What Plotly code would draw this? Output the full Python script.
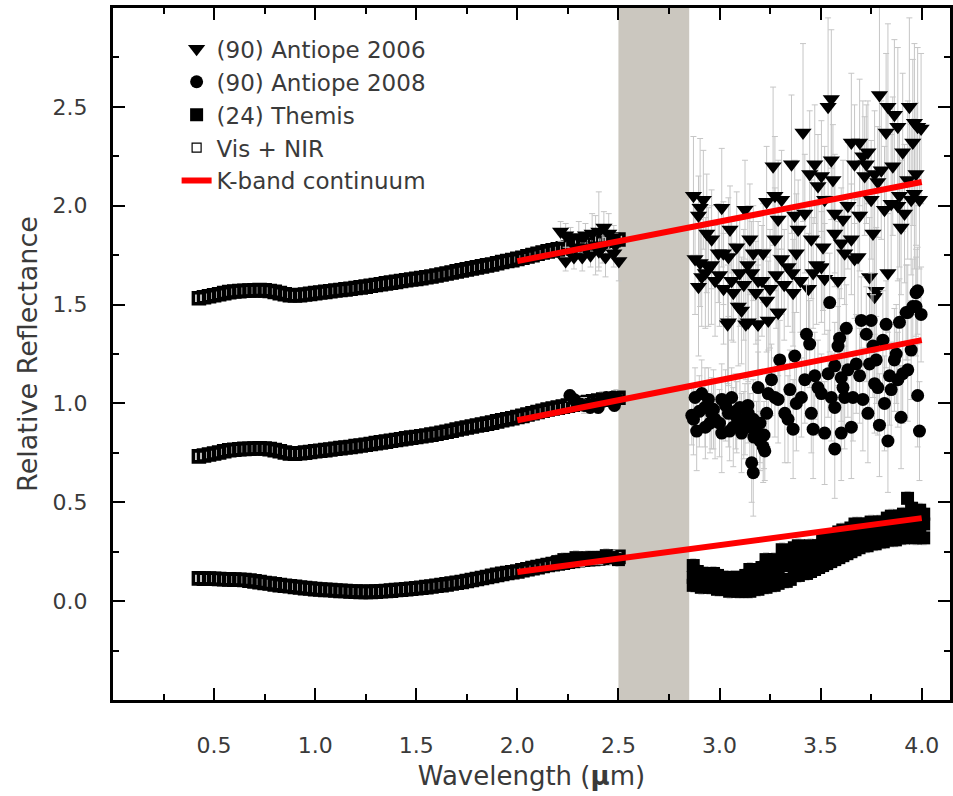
import plotly.graph_objects as go

# ---------------- data ----------------
# Vis + NIR spectra (wavelength grid in micron)
visnir_x = [0.425, 0.45, 0.475, 0.5, 0.525, 0.55, 0.575, 0.6, 0.625, 0.65, 0.675, 0.7, 0.725, 0.75,
            0.775, 0.8, 0.825, 0.85, 0.875, 0.9, 0.925, 0.95, 0.975, 1.0, 1.025, 1.05, 1.075, 1.1,
            1.125, 1.15, 1.175, 1.2, 1.225, 1.25, 1.275, 1.3, 1.325, 1.35, 1.375, 1.4, 1.425, 1.45,
            1.475, 1.5, 1.525, 1.55, 1.575, 1.6, 1.625, 1.65, 1.675, 1.7, 1.725, 1.75, 1.775, 1.8,
            1.825, 1.85, 1.875, 1.9, 1.925, 1.95, 1.975, 2.0, 2.025, 2.05, 2.075, 2.1, 2.125, 2.15,
            2.175, 2.2, 2.225, 2.25, 2.275, 2.3, 2.325, 2.35, 2.375, 2.4, 2.425, 2.45, 2.475, 2.5]
visnir_a06 = [1.532, 1.537, 1.542, 1.547, 1.552, 1.558, 1.563, 1.566, 1.568, 1.570, 1.571, 1.572, 1.573, 1.572,
              1.569, 1.564, 1.558, 1.552, 1.547, 1.546, 1.548, 1.551, 1.554, 1.558, 1.561, 1.564, 1.567, 1.571,
              1.574, 1.577, 1.580, 1.584, 1.587, 1.591, 1.595, 1.599, 1.603, 1.607, 1.611, 1.615, 1.619, 1.623,
              1.627, 1.630, 1.634, 1.638, 1.642, 1.647, 1.652, 1.657, 1.662, 1.668, 1.673, 1.678, 1.683, 1.688,
              1.693, 1.698, 1.703, 1.709, 1.715, 1.720, 1.725, 1.731, 1.737, 1.744, 1.750, 1.757, 1.763, 1.769,
              1.774, 1.779, 1.784, 1.789, 1.794, 1.799, 1.803, 1.807, 1.811, 1.815, 1.819, 1.823, 1.826, 1.829]
visnir_a08 = [0.732, 0.737, 0.742, 0.747, 0.752, 0.758, 0.763, 0.766, 0.768, 0.770, 0.771, 0.772, 0.773, 0.772,
              0.769, 0.764, 0.758, 0.752, 0.747, 0.746, 0.748, 0.751, 0.754, 0.758, 0.761, 0.764, 0.767, 0.771,
              0.774, 0.777, 0.780, 0.784, 0.787, 0.791, 0.795, 0.799, 0.803, 0.807, 0.811, 0.815, 0.819, 0.823,
              0.827, 0.830, 0.834, 0.838, 0.842, 0.847, 0.852, 0.857, 0.862, 0.868, 0.873, 0.878, 0.883, 0.888,
              0.893, 0.898, 0.903, 0.909, 0.915, 0.920, 0.925, 0.931, 0.937, 0.944, 0.950, 0.957, 0.963, 0.969,
              0.974, 0.979, 0.984, 0.989, 0.994, 0.999, 1.003, 1.007, 1.011, 1.015, 1.019, 1.023, 1.026, 1.029]
visnir_t24 = [0.115, 0.114, 0.114, 0.113, 0.112, 0.111, 0.110, 0.109, 0.108, 0.107, 0.104, 0.100, 0.096, 0.092,
              0.089, 0.085, 0.081, 0.078, 0.075, 0.072, 0.069, 0.066, 0.064, 0.061, 0.059, 0.057, 0.056, 0.054,
              0.052, 0.051, 0.049, 0.048, 0.047, 0.047, 0.047, 0.048, 0.050, 0.051, 0.053, 0.056, 0.058, 0.060,
              0.063, 0.065, 0.068, 0.071, 0.074, 0.078, 0.081, 0.085, 0.089, 0.093, 0.097, 0.102, 0.107, 0.112,
              0.117, 0.122, 0.128, 0.133, 0.138, 0.142, 0.146, 0.150, 0.156, 0.161, 0.167, 0.172, 0.178, 0.183,
              0.187, 0.191, 0.195, 0.199, 0.203, 0.207, 0.209, 0.212, 0.214, 0.216, 0.218, 0.220, 0.222, 0.224]

# (90) Antiope 2006
a06_sw_x = [2.214, 2.239, 2.263, 2.304, 2.337, 2.370, 2.403, 2.428, 2.452, 2.477, 2.239, 2.280, 2.321, 2.362,
            2.403, 2.436, 2.477, 2.502, 2.288, 2.346, 2.387, 2.420, 2.485]
a06_sw_y = [1.87, 1.85, 1.84, 1.84, 1.85, 1.86, 1.87, 1.89, 1.86, 1.84, 1.72, 1.74, 1.74, 1.75,
            1.77, 1.74, 1.76, 1.72, 1.79, 1.79, 1.80, 1.79, 1.80]
a06_sw_err = [0.05, 0.06, 0.05, 0.08, 0.06, 0.10, 0.20, 0.08, 0.10, 0.06, 0.05, 0.06, 0.07, 0.06,
              0.08, 0.10, 0.07, 0.10, 0.06, 0.05, 0.15, 0.08, 0.06]
a06_lw_x = [2.871, 2.920, 2.904, 2.896, 2.937, 2.961, 2.879, 2.904, 2.945, 2.912,
            2.896, 2.978, 2.994, 3.011, 3.052, 3.019, 3.044, 3.085, 3.044, 3.068,
            3.093, 3.109, 3.126, 3.142, 3.150, 3.167, 3.191, 3.159, 3.191, 3.216,
            3.233, 3.241, 3.233, 3.265, 3.274, 3.290, 3.307, 3.290, 3.274, 3.307,
            3.339, 3.356, 3.372, 3.389, 3.380, 3.364, 3.413, 3.422, 3.446, 3.463,
            3.471, 3.487, 3.504, 3.454, 3.520, 3.512, 3.504, 3.537, 3.553, 3.553,
            3.561, 3.570, 3.570, 3.586, 3.602, 3.619, 3.611, 3.635, 3.652, 3.668,
            3.685, 3.652, 3.668, 3.693, 3.709, 3.726, 3.734, 3.718, 3.693, 3.750,
            3.767, 3.783, 3.742, 3.759, 3.775, 3.767, 3.791, 3.800, 3.824, 3.833,
            3.833, 3.865, 3.857, 3.882, 3.890, 3.816, 3.849, 3.882, 3.898, 3.906,
            3.915, 3.931, 3.939, 3.948, 3.956, 3.964, 3.972, 3.964, 3.980, 3.989,
            3.997,
            3.04, 3.13, 3.19, 3.29, 2.93, 2.96, 3.00, 3.02, 3.06, 3.10, 3.12,
            3.14, 3.18, 3.21, 3.25, 3.28, 3.32, 3.36, 3.40, 3.44, 3.48, 3.52]
a06_lw_y = [2.05, 2.03, 1.99, 1.95, 1.86, 1.83, 1.73, 1.71, 1.69, 1.64,
            1.59, 1.62, 1.76, 1.99, 1.88, 1.76, 1.74, 1.79, 1.41, 1.56,
            1.49, 1.47, 1.98, 1.41, 1.83, 1.76, 1.40, 1.66, 1.62, 1.76,
            2.02, 1.42, 1.52, 2.20, 2.05, 1.46, 2.03, 1.93, 1.83, 1.73,
            1.69, 2.21, 1.95, 1.88, 1.76, 1.56, 2.37, 1.96, 2.16, 1.66,
            2.21, 2.10, 2.15, 1.83, 2.03, 1.79, 1.69, 2.50, 2.54, 2.23,
            2.13, 1.96, 1.86, 1.62, 1.81, 1.76, 1.93, 2.00, 1.83, 1.73,
            1.74, 2.32, 2.21, 2.32, 2.25, 2.21, 2.27, 2.15, 1.95, 2.03,
            2.16, 2.12, 1.64, 1.86, 1.57, 1.54, 2.56, 2.18, 2.37, 1.66,
            2.50, 2.46, 2.20, 2.40, 2.05, 1.98, 2.01, 2.00, 1.89, 2.27,
            1.96, 2.13, 2.50, 2.03, 2.32, 2.42, 2.16, 2.06, 2.40, 2.03,
            2.39,
            1.40, 1.40, 1.40, 1.46, 1.66, 1.70, 1.65, 1.58, 1.62, 1.66, 1.60,
            1.70, 1.56, 1.62, 1.58, 1.65, 1.60, 1.66, 1.62, 1.58, 1.70, 1.63]
a06_lw_err = [0.30, 0.25, 0.35, 0.20, 0.30, 0.25, 0.28, 0.22, 0.30, 0.25,
              0.35, 0.28, 0.25, 0.30, 0.22, 0.26, 0.30, 0.28, 0.32, 0.25,
              0.30, 0.27, 0.25, 0.30, 0.28, 0.24, 0.33, 0.26, 0.30, 0.25,
              0.28, 0.30, 0.26, 0.40, 0.30, 0.28, 0.25, 0.30, 0.26, 0.28,
              0.30, 0.35, 0.28, 0.25, 0.30, 0.27, 0.45, 0.30, 0.32, 0.28,
              0.30, 0.26, 0.28, 0.30, 0.27, 0.32, 0.28, 0.45, 0.35, 0.30,
              0.28, 0.30, 0.27, 0.30, 0.28, 0.26, 0.30, 0.32, 0.28, 0.30,
              0.30, 0.35, 0.30, 0.32, 0.28, 0.30, 0.26, 0.30, 0.28, 0.30,
              0.32, 0.28, 0.30, 0.28, 0.32, 0.30, 0.45, 0.35, 0.40, 0.30,
              0.42, 0.38, 0.35, 0.40, 0.36, 0.32, 0.35, 0.38, 0.34, 0.40,
              0.35, 0.40, 0.45, 0.38, 0.42, 0.40, 0.36, 0.38, 0.40, 0.35,
              0.38,
              0.30, 0.28, 0.30, 0.32, 0.28, 0.30, 0.26, 0.28, 0.30, 0.27, 0.28,
              0.30, 0.26, 0.28, 0.30, 0.27, 0.28, 0.30, 0.26, 0.28, 0.30, 0.28]

# (90) Antiope 2008
a08_sw_x = [2.26, 2.28, 2.30, 2.33, 2.36, 2.38, 2.40, 2.42, 2.44, 2.46, 2.48, 2.49]
a08_sw_y = [1.04, 1.02, 1.00, 0.99, 0.98, 1.00, 0.98, 1.02, 1.03, 1.02, 0.99, 1.03]
a08_sw_err = [0.03, 0.02, 0.03, 0.04, 0.03, 0.02, 0.03, 0.04, 0.03, 0.02, 0.03, 0.04]
a08_lw_x = [2.863, 2.871, 2.887, 2.879, 2.912, 2.928, 2.945, 2.961, 2.953, 2.978,
            3.011, 3.011, 3.044, 3.060, 3.068, 3.085, 3.101, 3.109, 3.126, 3.142,
            3.150, 3.167, 3.191, 3.183, 3.200, 3.216, 3.224, 3.233, 3.241, 3.257,
            3.274, 3.290, 3.298, 3.323, 3.339, 3.348, 3.364, 3.372, 3.380, 3.405,
            3.422, 3.430, 3.446, 3.454, 3.463, 3.471, 3.487, 3.504, 3.520, 3.537,
            3.545, 3.553, 3.570, 3.570, 3.586, 3.594, 3.602, 3.611, 3.619, 3.627,
            3.635, 3.652, 3.660, 3.676, 3.693, 3.701, 3.709, 3.726, 3.734, 3.742,
            3.750, 3.759, 3.767, 3.775, 3.783, 3.791, 3.808, 3.816, 3.824, 3.833,
            3.841, 3.849, 3.865, 3.874, 3.882, 3.890, 3.898, 3.906, 3.923, 3.931,
            3.948, 3.956, 3.972, 3.980, 3.989, 3.997, 3.159, 3.167, 3.570, 3.602,
            3.931, 3.980, 3.972,
            2.90, 2.93, 2.97, 3.00, 3.03, 3.05, 3.08, 3.12, 3.14, 3.17, 3.20, 3.22]
a08_lw_y = [0.94, 0.92, 0.86, 1.03, 1.05, 0.98, 1.02, 0.95, 0.90, 0.92,
            1.02, 0.85, 0.95, 1.03, 0.88, 0.93, 0.98, 0.85, 0.92, 0.95,
            0.88, 0.92, 1.08, 0.85, 0.81, 0.78, 0.76, 0.95, 1.05, 1.12,
            1.03, 1.02, 1.22, 0.95, 0.92, 1.07, 0.87, 1.24, 1.00, 1.03,
            1.12, 1.35, 1.30, 0.95, 0.87, 1.14, 1.08, 1.05, 0.85, 1.15,
            1.51, 1.03, 0.98, 1.19, 1.29, 1.33, 1.13, 1.08, 1.03, 1.38,
            1.17, 0.88, 1.03, 1.20, 1.14, 1.42, 1.02, 1.35, 0.95, 1.20,
            1.42, 1.29, 1.10, 1.22, 1.08, 0.89, 1.32, 1.00, 1.40, 0.81,
            1.14, 1.07, 1.22, 1.25, 1.12, 1.41, 0.93, 1.15, 1.46, 1.17,
            1.27, 1.49, 1.56, 1.04, 0.86, 1.45, 0.70, 0.65, 0.77, 0.85,
            1.46, 1.57, 1.49,
            0.96, 0.88, 0.97, 0.90, 0.99, 0.86, 0.96, 0.89, 0.99, 0.83, 0.90, 0.84]
a08_lw_err = [0.15, 0.18, 0.20, 0.15, 0.17, 0.20, 0.16, 0.18, 0.15, 0.20,
              0.18, 0.20, 0.17, 0.15, 0.20, 0.18, 0.16, 0.20, 0.18, 0.15,
              0.17, 0.20, 0.18, 0.16, 0.15, 0.18, 0.15, 0.20, 0.22, 0.18,
              0.20, 0.22, 0.20, 0.25, 0.22, 0.20, 0.25, 0.22, 0.24, 0.20,
              0.22, 0.25, 0.22, 0.20, 0.25, 0.22, 0.24, 0.20, 0.26, 0.22,
              0.25, 0.22, 0.24, 0.22, 0.20, 0.25, 0.22, 0.24, 0.26, 0.22,
              0.24, 0.26, 0.22, 0.25, 0.24, 0.22, 0.26, 0.24, 0.25, 0.22,
              0.24, 0.26, 0.25, 0.22, 0.24, 0.26, 0.25, 0.24, 0.22, 0.26,
              0.25, 0.24, 0.26, 0.25, 0.24, 0.22, 0.26, 0.25, 0.24, 0.26,
              0.25, 0.24, 0.22, 0.26, 0.25, 0.24, 0.20, 0.22, 0.25, 0.24,
              0.24, 0.22, 0.25,
              0.18, 0.16, 0.20, 0.17, 0.18, 0.15, 0.19, 0.17, 0.16, 0.18, 0.20, 0.17]

# (24) Themis
t24_sw_x = [2.20, 2.23, 2.26, 2.29, 2.32, 2.35, 2.38, 2.41, 2.44, 2.47, 2.50]
t24_sw_y = [0.20, 0.21, 0.21, 0.22, 0.21, 0.22, 0.22, 0.22, 0.23, 0.22, 0.21]
t24_lw_x = [2.87, 2.89, 2.91, 2.93, 2.95, 2.97, 2.99, 3.01, 3.03, 3.05, 3.07, 3.09, 3.11, 3.13, 3.15,
            3.17, 3.19, 3.21, 3.23, 3.25, 3.27, 3.29, 3.31, 3.33, 3.35, 3.37, 3.39, 3.41, 3.43, 3.45,
            3.47, 3.49, 3.51, 3.53, 3.55, 3.57, 3.59, 3.61, 3.63, 3.65, 3.67, 3.69, 3.71, 3.73, 3.75,
            3.77, 3.79, 3.81, 3.83, 3.85, 3.87, 3.89, 3.91, 3.93, 3.95, 3.97, 3.99, 4.01]
t24_lw_hi = [0.18, 0.15, 0.14, 0.14, 0.13, 0.14, 0.13, 0.12, 0.12, 0.11, 0.12, 0.12, 0.11, 0.13, 0.16,
             0.15, 0.15, 0.17, 0.21, 0.20, 0.21, 0.20, 0.26, 0.25, 0.22, 0.27, 0.28, 0.27, 0.26, 0.28,
             0.27, 0.28, 0.31, 0.32, 0.31, 0.32, 0.35, 0.36, 0.35, 0.37, 0.39, 0.39, 0.38, 0.39, 0.40,
             0.39, 0.40, 0.40, 0.42, 0.43, 0.42, 0.43, 0.44, 0.52, 0.47, 0.45, 0.46, 0.44]
t24_lw_mid = [0.12, 0.11, 0.10, 0.11, 0.10, 0.10, 0.09, 0.09, 0.09, 0.08, 0.09, 0.08, 0.08, 0.09, 0.10,
              0.10, 0.11, 0.12, 0.14, 0.14, 0.15, 0.16, 0.18, 0.19, 0.18, 0.20, 0.21, 0.20, 0.21, 0.22,
              0.22, 0.23, 0.25, 0.26, 0.26, 0.27, 0.29, 0.30, 0.30, 0.31, 0.33, 0.33, 0.33, 0.34, 0.35,
              0.35, 0.35, 0.36, 0.37, 0.37, 0.37, 0.38, 0.38, 0.40, 0.40, 0.39, 0.40, 0.39]
t24_lw_lo = [0.08, 0.08, 0.07, 0.08, 0.07, 0.07, 0.06, 0.06, 0.06, 0.05, 0.06, 0.05, 0.05, 0.05, 0.05,
             0.06, 0.06, 0.07, 0.07, 0.08, 0.08, 0.09, 0.10, 0.10, 0.11, 0.13, 0.13, 0.14, 0.14, 0.15,
             0.16, 0.17, 0.18, 0.19, 0.20, 0.21, 0.22, 0.23, 0.24, 0.25, 0.26, 0.27, 0.28, 0.28, 0.29,
             0.29, 0.30, 0.30, 0.31, 0.31, 0.31, 0.32, 0.32, 0.33, 0.33, 0.32, 0.33, 0.32]

# K-band continuum lines
kband_x = [2.0, 4.0]
kband_a06 = [1.72, 2.12]
kband_a08 = [0.915, 1.32]
kband_t24 = [0.147, 0.42]

# gap region (strong telluric absorption)
gap_x0, gap_x1 = 2.5, 2.85

x_ticks = [0.5, 1.0, 1.5, 2.0, 2.5, 3.0, 3.5, 4.0]
y_ticks = [0.0, 0.5, 1.0, 1.5, 2.0, 2.5]

# ---------------- figure ----------------
FONT = "DejaVu Sans"
TXT = "#3a3a3a"
ERRC = "#c6c6c6"

fig = go.Figure()

# Vis + NIR spectra (open squares)
for yy in (visnir_a06, visnir_a08, visnir_t24):
    fig.add_trace(go.Scatter(
        x=visnir_x, y=yy, mode="markers", showlegend=False, hoverinfo="skip",
        marker=dict(symbol="square-open", size=11, color="black", line=dict(width=3.6, color="black")),
    ))
fig.add_trace(go.Scatter(
    x=[None], y=[None], mode="markers", name="Vis + NIR", legendrank=4,
    marker=dict(symbol="square-open", size=9, color="black", line=dict(width=1.2, color="black")),
))

# Antiope 2006
fig.add_trace(go.Scatter(
    x=a06_sw_x + a06_lw_x, y=a06_sw_y + a06_lw_y, mode="markers",
    name="(90) Antiope 2006", legendrank=1,
    marker=dict(symbol="triangle-down", size=15, color="black"),
    error_y=dict(type="data", array=a06_sw_err + a06_lw_err, color=ERRC, thickness=1, width=3),
))

# Antiope 2008
fig.add_trace(go.Scatter(
    x=a08_sw_x + a08_lw_x, y=a08_sw_y + a08_lw_y, mode="markers",
    name="(90) Antiope 2008", legendrank=2,
    marker=dict(symbol="circle", size=13, color="black"),
    error_y=dict(type="data", array=a08_sw_err + a08_lw_err, color=ERRC, thickness=1, width=3),
))

# Themis
fig.add_trace(go.Scatter(
    x=t24_sw_x + t24_lw_x + t24_lw_x + t24_lw_x,
    y=t24_sw_y + t24_lw_hi + t24_lw_mid + t24_lw_lo, mode="markers",
    name="(24) Themis", legendrank=3,
    marker=dict(symbol="square", size=13, color="black"),
    error_y=dict(type="constant", value=0.035, color=ERRC, thickness=1, width=3),
))

# K-band continuum
for i, yy in enumerate((kband_a06, kband_a08, kband_t24)):
    fig.add_trace(go.Scatter(
        x=kband_x, y=yy, mode="lines", name="K-band continuum", legendrank=5,
        showlegend=(i == 0), legendgroup="kband",
        line=dict(color="#ff0000", width=6),
    ))

fig.add_shape(type="rect", xref="x", yref="paper", x0=gap_x0, x1=gap_x1, y0=0, y1=1,
              fillcolor="#cbc7bf", line=dict(width=0), layer="below")

axis_common = dict(
    showline=True, linecolor="black", linewidth=3, mirror="ticks",
    ticks="inside", ticklen=12, tickwidth=2, tickcolor="black",
    showgrid=False, zeroline=False,
    tickfont=dict(family=FONT, size=22, color=TXT),
)

fig.update_layout(
    width=953, height=796,
    margin=dict(l=113, r=0, t=8, b=96),
    paper_bgcolor="white", plot_bgcolor="white",
    font=dict(family=FONT, color=TXT),
    xaxis=dict(
        range=[0, 4.14], tickmode="array", tickvals=x_ticks, ticktext=[f"{v:.1f}" for v in x_ticks],
        minor=dict(dtick=0.25, tick0=0, ticks="inside", ticklen=6, tickwidth=2, tickcolor="black"),
        ticklabelstandoff=24,
        title=dict(text="Wavelength (<b>μ</b>m)", font=dict(family=FONT, size=26, color=TXT), standoff=10),
        **axis_common,
    ),
    yaxis=dict(
        range=[-0.5, 3.0], tickmode="array", tickvals=y_ticks, ticktext=[f"{v:.1f}" for v in y_ticks],
        minor=dict(dtick=0.25, tick0=0, ticks="inside", ticklen=6, tickwidth=2, tickcolor="black"),
        ticklabelstandoff=18,
        title=dict(text="Relative Reflectance", font=dict(family=FONT, size=27, color=TXT), standoff=8),
        **axis_common,
    ),
    legend=dict(
        x=0.076, y=0.972, xanchor="left", yanchor="top",
        bgcolor="rgba(0,0,0,0)", borderwidth=0,
        font=dict(family=FONT, size=23, color=TXT),
        tracegroupgap=0, itemsizing="trace",
    ),
    showlegend=True,
)

fig.write_html("out.html")
